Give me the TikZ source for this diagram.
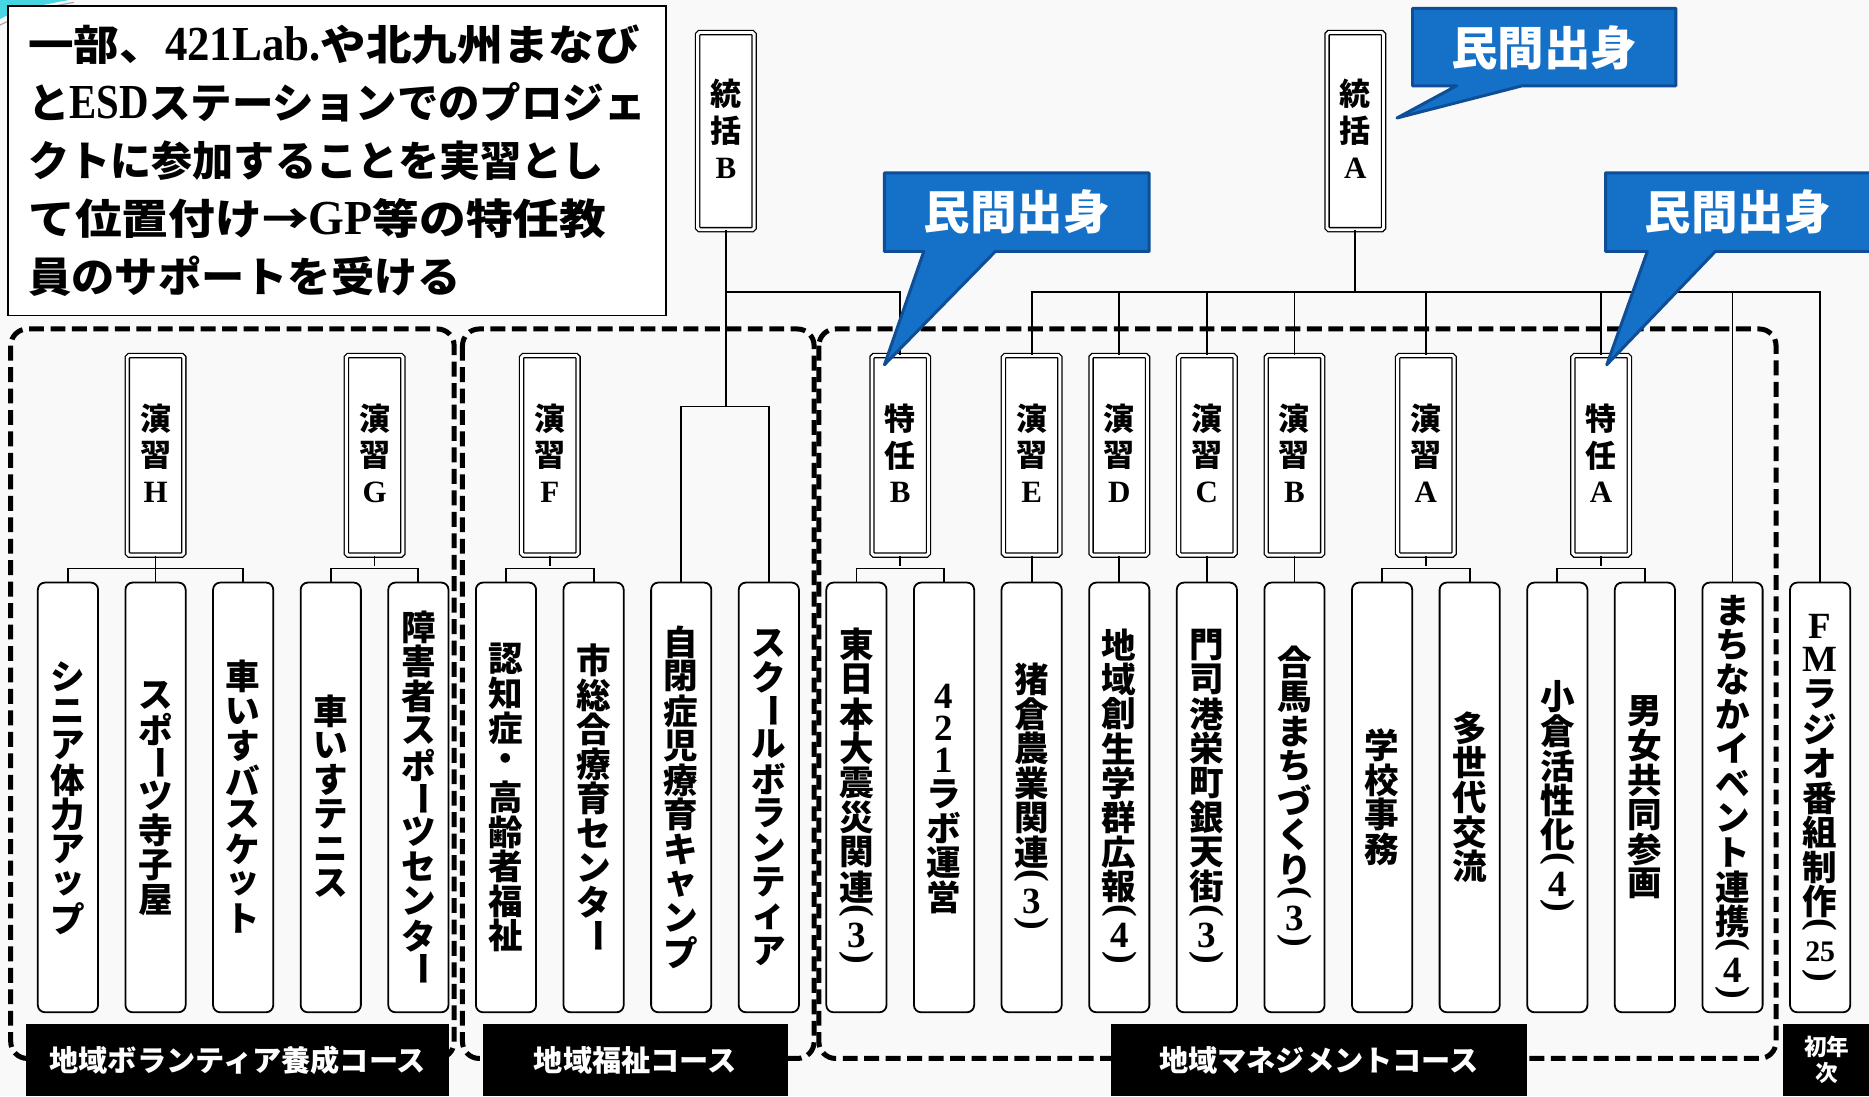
\documentclass[tikz,border=0pt]{standalone}
\usepackage{fontspec}
\usepackage{graphicx}
\newfontfamily\jp{Noto Sans CJK JP}
\newfontfamily\ls{Liberation Serif}
\newfontfamily\lsc{Liberation Serif}[FakeStretch=0.84]
\definecolor{bgc}{RGB}{249,249,249}
\definecolor{cfill}{RGB}{21,112,200}
\definecolor{cdraw}{RGB}{14,78,150}
\definecolor{swa}{RGB}{70,214,226}
\newlength\vtpitch
\setlength\vtpitch{29pt}
\newif\ifvtprop
\newcommand\vcell[2][\vtpitch]{\hbox to 46pt{\hss\vbox to #1{\vss\hbox{#2}\vss}\hss}}
\newcommand\VB{\rotatebox[origin=c]{-90}{ー}}
\newcommand\VL{\rotatebox[origin=c]{-90}{\ls\fontsize{32}{32}\selectfont(}}
\newcommand\VR{\rotatebox[origin=c]{-90}{\ls\fontsize{32}{32}\selectfont)}}
\newcommand\N[1]{{\ls #1}}
\newcommand\ND[1]{{\ls\fontsize{31}{31}\selectfont #1}}
\newcommand\LT[1]{{\lsc\fontsize{41}{48.7}\selectfont #1}}
\makeatletter
\newcommand\vt[1]{\vbox{\offinterlineskip\@tfor\vt@x:=#1\do{%
  \setbox0\hbox{\vt@x}%
  \dimen0=\ht0 \advance\dimen0 by \dp0
  \ifvtprop
    \ifdim\wd0<20pt \vcell[27pt]{\box0}\else
      \ifdim\dimen0<15pt \vcell[13pt]{\box0}\else \vcell{\box0}\fi
    \fi
  \else \vcell{\box0}\fi}}}
\makeatother
\begin{document}
\begin{tikzpicture}[x=1pt,y=-1pt,
  topbox/.style={draw, line width=1.1pt, double=white, double distance=2.4pt, fill=white,
    rounded corners=1.5pt, minimum width=47.4pt, minimum height=167.4pt, inner sep=0pt,
    font={\jp\bfseries\fontsize{26}{26}\selectfont\setlength\vtpitch{31pt}\vtpropfalse}},
  headbox/.style={topbox, minimum height=165.4pt},
  botbox/.style={draw, line width=1.5pt, rounded corners=6pt, fill=white,
    minimum width=50.5pt, minimum height=360.5pt, inner sep=0pt,
    font={\jp\bfseries\fontsize{29}{29}\selectfont\setlength\vtpitch{29pt}\vtproptrue}},
  conn/.style={line width=1.5pt},
  region/.style={draw, line width=4.2pt, dash pattern=on 12.5pt off 5.5pt, rounded corners=14pt},
  bar/.style={fill=black, text=white, minimum height=60.5pt, inner sep=0pt,
    font={\jp\bfseries\fontsize{24.5}{24.5}\selectfont}},
  callout/.style={fill=cfill, draw=cdraw, line width=2.5pt, line join=round},
  ctext/.style={text=white, inner sep=0pt, font={\jp\bfseries\fontsize{39}{39}\selectfont}}
]
\useasboundingbox (0,0) rectangle (1568,919.5);
\fill[bgc] (0,0) rectangle (1568,919.5);
% corner swoosh
\fill[swa] (0,0) -- (58,0) .. controls (35,4) and (12,9) .. (0,16) -- cycle;
\draw[gray!70, line width=1pt] (0,21) .. controls (18,12) and (38,6) .. (62,2);

% note box
\node[draw, line width=1.5pt, fill=white, anchor=north west, minimum width=552pt,
  minimum height=260pt, inner xsep=17pt, align=left,
  font={\jp\bfseries\fontsize{35}{48.7}\selectfont}] (note) at (6,4)
{\resizebox{513pt}{\height}{一部、\LT{421Lab.}や北九州まなび}\\
 \resizebox{518pt}{\height}{と\LT{ESD}ステーションでのプロジェ}\\
 \resizebox{483pt}{\height}{クトに参加することを実習とし}\\
 \resizebox{485pt}{\height}{て位置付け→\LT{GP}等の特任教}\\
 \resizebox{363pt}{\height}{員のサポートを受ける}};

% dashed course regions
\draw[region] (9,276) rectangle (381,888);
\draw[region] (388,276) rectangle (683,888);
\draw[region] (687,276) rectangle (1490,888);

% head boxes
\node[headbox] (gB) at (609,110) {\vt{統括{\N B}}};
\node[headbox] (gA) at (1137,110) {\vt{統括{\N A}}};

% exercise / special boxes
\node[topbox] (tH) at (130.5,382) {\vt{演習{\N H}}};
\node[topbox] (tG) at (314.25,382) {\vt{演習{\N G}}};
\node[topbox] (tF) at (461.25,382) {\vt{演習{\N F}}};
\node[topbox] (tB) at (755.25,382) {\vt{特任{\N B}}};
\node[topbox] (eE) at (865.5,382) {\vt{演習{\N E}}};
\node[topbox] (eD) at (939,382) {\vt{演習{\N D}}};
\node[topbox] (eC) at (1012.5,382) {\vt{演習{\N C}}};
\node[topbox] (eB) at (1086,382) {\vt{演習{\N B}}};
\node[topbox] (eA) at (1196.25,382) {\vt{演習{\N A}}};
\node[topbox] (sA) at (1343.25,382) {\vt{特任{\N A}}};

% activity boxes
\node[botbox] (b0) at (57,669) {\vt{シニア体力アップ}};
\node[botbox] (b1) at (130.5,669) {\vt{スポ\VB ツ寺子屋}};
\node[botbox] (b2) at (204,669) {\vt{車いすバスケット}};
\node[botbox] (b3) at (277.5,669) {\vt{車いすテニス}};
\node[botbox] (b4) at (351,669) {\vt{障害者スポ\VB ツセンタ\VB}};
\node[botbox] (b5) at (424.5,669) {\vt{認知症・高齢者福祉}};
\node[botbox] (b6) at (498,669) {\vt{市総合療育センタ\VB}};
\node[botbox] (b7) at (571.5,669) {\vt{自閉症児療育キャンプ}};
\node[botbox] (b8) at (645,669) {\vt{スク\VB ルボランティア}};
\node[botbox] (b9) at (718.5,669) {\vt{東日本大震災関連\VL{\ND3}\VR}};
\node[botbox] (b10) at (792,669) {\vt{{\ND4}{\ND2}{\ND1}ラボ運営}};
\node[botbox] (b11) at (865.5,669) {\vt{猪倉農業関連\VL{\ND3}\VR}};
\node[botbox] (b12) at (939,669) {\vt{地域創生学群広報\VL{\ND4}\VR}};
\node[botbox] (b13) at (1012.5,669) {\vt{門司港栄町銀天街\VL{\ND3}\VR}};
\node[botbox] (b14) at (1086,669) {\vt{合馬まちづくり\VL{\ND3}\VR}};
\node[botbox] (b15) at (1159.5,669) {\vt{学校事務}};
\node[botbox] (b16) at (1233,669) {\vt{多世代交流}};
\node[botbox] (b17) at (1306.5,669) {\vt{小倉活性化\VL{\ND4}\VR}};
\node[botbox] (b18) at (1380,669) {\vt{男女共同参画}};
\node[botbox] (b19) at (1453.5,669) {\vt{まちなかイベント連携\VL{\ND4}\VR}};
\node[botbox] (b20) at (1527,669) {\vt{{\ND F}{\ND M}ラジオ番組制作\VL{\ls\fontsize{25}{25}\selectfont 25}\VR}};

% connectors
\coordinate (jB) at (609,245);
\coordinate (jB2) at (609,341);
\coordinate (jA) at (1137,245);
\draw[conn] (gB.south) -- (jB2);
\draw[conn] (jB) -| (tB.north);
\draw[conn] (b7.north) |- (jB2) -| (b8.north);
\draw[conn] (gA.south) -- (jA);
\foreach \n in {eE,eD,eC,eB,eA,sA,b19,b20} \draw[conn] (jA) -| (\n.north);

\draw[conn] (tH.south) -- (b1.north);
\draw[conn] (b0.north) -- ++(0,-11) -| (b2.north);
\draw[conn] (tG.south) -- ++(0,9);
\draw[conn] (b3.north) -- ++(0,-11) -| (b4.north);
\draw[conn] (tF.south) -- ++(0,9);
\draw[conn] (b5.north) -- ++(0,-11) -| (b6.north);
\draw[conn] (tB.south) -- ++(0,9);
\draw[conn] (b9.north) -- ++(0,-11) -| (b10.north);
\draw[conn] (eE.south) -- (b11.north);
\draw[conn] (eD.south) -- (b12.north);
\draw[conn] (eC.south) -- (b13.north);
\draw[conn] (eB.south) -- (b14.north);
\draw[conn] (eA.south) -- ++(0,9);
\draw[conn] (b15.north) -- ++(0,-11) -| (b16.north);
\draw[conn] (sA.south) -- ++(0,9);
\draw[conn] (b17.north) -- ++(0,-11) -| (b18.north);

% course labels
\node[bar, minimum width=355pt] (L1) at (199.5,889.25) {地域ボランティア養成コース};
\node[bar, minimum width=256pt] (L2) at (533,889.25) {地域福祉コース};
\node[bar, minimum width=349pt] (L3) at (1106.5,889.25) {地域マネジメントコース};
\node[bar, minimum width=73pt, align=center, font={\jp\bfseries\fontsize{19}{22}\selectfont}] (L4) at (1532.5,889.25) {初年\\次};

% callouts
\filldraw[callout] (1185,7) -- (1406,7) -- (1406,72) -- (1277,72) -- (1172,99) -- (1222,72) -- (1185,72) -- cycle;
\node[ctext] (m1) at (1295.5,40) {民間出身};
\filldraw[callout] (742,145) -- (964,145) -- (964,211) -- (835,211) -- (742,306) -- (775,211) -- (742,211) -- cycle;
\node[ctext] (m2) at (853,178) {民間出身};
\filldraw[callout] (1347,145) -- (1585,145) -- (1585,211) -- (1439,211) -- (1348,306) -- (1382,211) -- (1347,211) -- cycle;
\node[ctext] (m3) at (1458,178) {民間出身};
\end{tikzpicture}
\end{document}
